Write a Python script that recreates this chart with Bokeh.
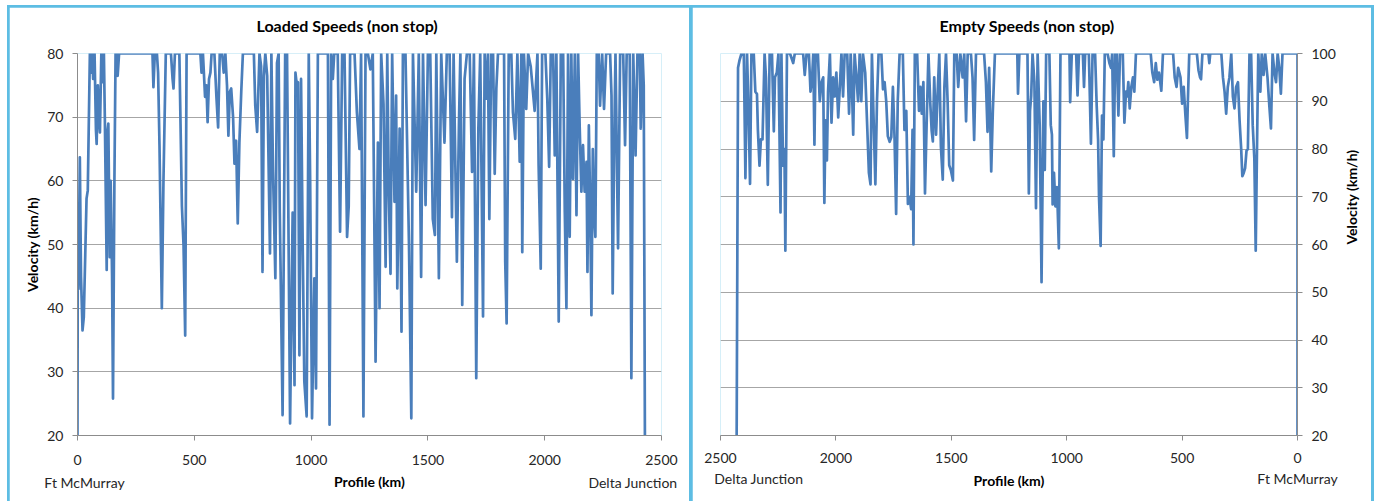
import math
from bokeh.plotting import figure
from bokeh.models import Range1d, FixedTicker, LinearAxis, Title
from bokeh.layouts import row
from bokeh.embed import file_html
from bokeh.resources import INLINE

# ---------------- data (km, km/h) ----------------
loaded_points = [
    (0, 20), (1.4, 54.6), (4.3, 43), (10, 63.7), (15, 45), (21.5, 36.5), (27, 38.6), (38.7, 57.2), (44, 58.5), (53, 80),
    (59, 77), (63, 80), (67, 76), (73, 80), (79, 68), (82, 65.8), (87, 75), (92, 70), (96, 67.6), (102, 80),
    (106, 75.5), (113, 80), (117, 70), (125, 46), (129, 68), (132, 69), (138, 48), (142, 60), (148, 45), (152, 25.8),
    (158, 60), (163, 80), (168, 80), (172, 76.5), (178, 80), (321, 80), (325, 74.7), (331, 80), (340, 80), (345, 77),
    (351, 65.6), (361, 40), (368, 60), (378, 80), (400, 80), (407, 76), (411, 74.5), (417, 80), (436, 80), (447, 56),
    (454, 49.8), (461, 35.7), (467, 80), (526, 80), (531, 77), (537, 80), (546, 73.2), (552, 75), (557, 69.2), (563, 76),
    (569, 77), (574, 80), (586, 80), (595, 73), (602, 68.4), (609, 80), (619, 80), (626, 77), (633, 80), (640, 75),
    (646, 67.1), (652, 74), (658, 74.5), (666, 70), (672, 62.7), (679, 66.3), (686, 53.3), (693, 66), (701, 74), (708, 80),
    (755, 80), (761, 71.8), (769, 67.7), (779, 80), (786, 78), (792, 45.7), (798, 76.5), (804, 80), (812, 76.5), (824, 48.6),
    (830, 80), (837, 61.4), (847, 44.7), (854, 78.5), (861, 80), (866, 55), (878, 23.2), (889, 80), (897, 80), (910, 21.9),
    (921, 55), (929, 27.9), (933, 77), (939, 75), (944, 75.5), (950, 32.6), (957, 76), (964, 50), (971, 28.5), (981, 23),
    (990, 80), (996, 60), (1004, 22.7), (1014, 44.7), (1021, 27.4), (1029, 80), (1072, 80), (1079, 21.7), (1086, 80), (1093, 76),
    (1099, 80), (1114, 80), (1124, 52), (1133, 80), (1143, 80), (1154, 51.2), (1161, 56), (1167, 80), (1186, 80), (1196, 70.8),
    (1207, 65), (1214, 80), (1224, 23), (1233, 80), (1243, 80), (1254, 77.5), (1264, 80), (1276, 31.6), (1286, 66), (1293, 40),
    (1300, 80), (1310, 72), (1319, 46.5), (1326, 80), (1333, 57.6), (1340, 45.4), (1347, 80), (1357, 56.7), (1364, 73.4), (1369, 43.1),
    (1379, 68.2), (1387, 36.3), (1393, 80), (1404, 80), (1419, 50), (1429, 22.7), (1436, 80), (1450, 58.3), (1461, 80), (1471, 44.9),
    (1479, 80), (1490, 56.2), (1500, 80), (1510, 80), (1521, 54), (1530, 51.5), (1536, 80), (1547, 44.7), (1557, 80), (1571, 66),
    (1581, 80), (1593, 80), (1603, 54.3), (1610, 80), (1624, 47.3), (1633, 69.2), (1639, 80), (1647, 40.5), (1657, 76), (1667, 80),
    (1679, 80), (1689, 61.4), (1697, 80), (1707, 29), (1716, 68.2), (1724, 80), (1736, 38.7), (1743, 80), (1750, 72.9), (1757, 80),
    (1763, 54), (1771, 80), (1779, 80), (1786, 61.1), (1793, 74.5), (1800, 80), (1826, 80), (1831, 47.3), (1837, 37.6), (1846, 80),
    (1857, 80), (1864, 70.8), (1874, 66.6), (1883, 80), (1893, 63), (1900, 80), (1904, 48.8), (1911, 80), (1921, 71.3), (1929, 80),
    (1940, 78), (1957, 71), (1969, 80), (1974, 62.4), (1983, 46.2), (1989, 80), (2003, 80), (2011, 72.9), (2019, 62.2), (2026, 80),
    (2036, 80), (2043, 64), (2050, 80), (2060, 37.9), (2069, 80), (2079, 80), (2086, 55.1), (2093, 40), (2100, 80), (2107, 51.2),
    (2114, 80), (2121, 60.3), (2129, 80), (2136, 54.6), (2143, 80), (2150, 68.2), (2157, 58.3), (2164, 65.6), (2171, 58.3), (2179, 63),
    (2183, 45.7), (2189, 68.7), (2194, 57.7), (2200, 38.9), (2206, 65), (2211, 55.1), (2217, 51.2), (2223, 80), (2231, 80), (2237, 71.8),
    (2246, 80), (2254, 71.3), (2263, 80), (2280, 80), (2286, 73.4), (2291, 42.3), (2297, 64.5), (2303, 80), (2314, 49.4), (2323, 80),
    (2336, 80), (2344, 65.6), (2351, 80), (2364, 80), (2371, 29), (2379, 80), (2389, 64), (2397, 80), (2407, 80), (2411, 68.2),
    (2419, 80), (2424, 75), (2429, 20),
]

empty_points = [
    (2430, 20), (2424, 97), (2418, 98.5), (2409, 100), (2399, 100), (2392, 73.9), (2385, 100), (2378, 87), (2372, 72.7), (2366, 100),
    (2356, 100), (2349, 92), (2342, 91.5), (2338, 84), (2331, 76.5), (2325, 82), (2318, 82), (2309, 100), (2303, 95), (2295, 72.5),
    (2287, 100), (2277, 100), (2269, 83.7), (2264, 95), (2256, 96), (2249, 100), (2240, 66.7), (2236, 100), (2229, 76.5), (2223, 80),
    (2219, 58.7), (2212, 100), (2199, 100), (2185, 98), (2178, 100), (2142, 100), (2135, 95.5), (2127, 100), (2117, 100), (2110, 92),
    (2103, 95), (2098, 100), (2093, 80.9), (2088, 100), (2078, 100), (2070, 90), (2062, 94), (2055, 95), (2050, 68.7), (2045, 86),
    (2039, 77.6), (2034, 92), (2026, 100), (2019, 85.5), (2012, 95), (2005, 91), (1998, 96), (1990, 86.6), (1983, 93), (1976, 100),
    (1969, 91), (1962, 100), (1951, 100), (1943, 87.4), (1936, 100), (1930, 92), (1925, 83), (1919, 100), (1911, 95), (1904, 90),
    (1897, 100), (1890, 90), (1883, 100), (1873, 96), (1864, 84.3), (1857, 75), (1850, 72.6), (1844, 100), (1836, 85), (1829, 72.6),
    (1822, 90), (1815, 100), (1803, 100), (1796, 92.5), (1789, 94), (1782, 90), (1775, 82.7), (1767, 81.5), (1760, 82.5), (1753, 93),
    (1746, 82.5), (1739, 66.4), (1732, 90), (1724, 100), (1710, 100), (1703, 84), (1695, 88), (1688, 68.5), (1681, 70), (1674, 67.4),
    (1668, 84), (1664, 60), (1658, 100), (1648, 100), (1640, 88), (1634, 93), (1628, 87.4), (1621, 94), (1614, 70.7), (1607, 85),
    (1599, 100), (1591, 89.5), (1585, 83.8), (1580, 81.6), (1574, 95), (1566, 83), (1559, 92), (1552, 100), (1545, 80.5), (1537, 73.6),
    (1530, 93), (1523, 100), (1516, 90), (1509, 76.6), (1502, 75.6), (1493, 73.4), (1487, 100), (1477, 100), (1470, 93), (1461, 100),
    (1451, 95), (1444, 100), (1436, 85.8), (1429, 100), (1415, 100), (1408, 95), (1401, 81.9), (1393, 100), (1358, 100), (1350, 94),
    (1343, 83.6), (1336, 97), (1327, 75.3), (1320, 88), (1311, 100), (1214, 100), (1211, 91.6), (1205, 100), (1170, 100), (1164, 70.7),
    (1159, 88), (1154, 91), (1148, 100), (1140, 94), (1133, 67.6), (1126, 100), (1117, 85), (1109, 52.1), (1101, 90), (1095, 75.6),
    (1089, 100), (1075, 100), (1069, 85), (1064, 83), (1061, 68.4), (1055, 75), (1049, 68), (1042, 72), (1034, 59.2), (1027, 100),
    (988, 100), (985, 89.8), (978, 100), (959, 100), (953, 91.2), (947, 100), (930, 100), (925, 93), (920, 100), (904, 100),
    (895, 81.1), (888, 100), (877, 100), (870, 89), (864, 82), (860, 70), (853, 59.7), (847, 87), (841, 82), (835, 100),
    (823, 100), (815, 98), (808, 97), (803, 100), (796, 78.5), (790, 100), (783, 100), (776, 87), (769, 100), (757, 100),
    (750, 85.5), (743, 92), (738, 91), (733, 94), (727, 88.5), (720, 93), (713, 95), (707, 92), (700, 100), (636, 100),
    (629, 96), (621, 94), (614, 98), (607, 94.5), (600, 96), (590, 92.2), (583, 100), (539, 100), (532, 95), (524, 93),
    (517, 97), (507, 95), (500, 89.5), (493, 93), (486, 87.3), (479, 82.3), (475, 90), (469, 100), (436, 100), (429, 96.5),
    (422, 95), (418, 94.6), (412, 100), (386, 100), (382, 98), (378, 100), (330, 100), (323, 95), (316, 92), (309, 87.4),
    (302, 93), (295, 95), (287, 100), (280, 91), (273, 88.5), (266, 93), (258, 94), (251, 86), (244, 80), (239, 74.3),
    (233, 75), (227, 76), (221, 79.6), (215, 80), (208, 100), (201, 100), (194, 85), (187, 78), (181, 58.7), (175, 82),
    (170, 100), (161, 92), (155, 100), (147, 95.5), (140, 100), (130, 95), (122, 89), (115, 84.3), (108, 100), (100, 96),
    (93, 94), (86, 100), (79, 97), (72, 91.6), (65, 100), (0, 100), (0, 20),
]

loaded_km = [p[0] for p in loaded_points]
loaded_speed = [p[1] for p in loaded_points]
empty_km = [p[0] for p in empty_points]
empty_speed = [p[1] for p in empty_points]

x_ticks = [0, 500, 1000, 1500, 2000, 2500]
loaded_y_ticks = [20, 30, 40, 50, 60, 70, 80]
empty_y_ticks = [20, 30, 40, 50, 60, 70, 80, 90, 100]

loaded_title = "Loaded Speeds (non stop)"
empty_title = "Empty Speeds (non stop)"
y_title = "Velocity (km/h)"
x_title = "Profile (km)"
origin_name = "Ft McMurray"
dest_name = "Delta Junction"

# ---------------- styling ----------------
FONT = "Lato"
LINE = "#4A7EBB"
GRID = "#A6A6A6"
AXIS = "#8C8C8C"
BORDER = "#5DBDE3"
TXT = "#262626"


def style(p, yticks, xlab_standoff, ylab_standoff):
    p.outline_line_color = None
    p.background_fill_color = "white"
    p.border_fill_color = "white"
    p.xgrid.grid_line_color = None
    p.ygrid.grid_line_color = GRID
    p.ygrid.grid_line_width = 1
    p.xaxis.ticker = FixedTicker(ticks=x_ticks)
    p.yaxis.ticker = FixedTicker(ticks=yticks)
    for ax in (p.xaxis, p.yaxis):
        ax.axis_line_color = AXIS
        ax.major_tick_line_color = AXIS
        ax.major_tick_out = 5
        ax.major_tick_in = 0
        ax.minor_tick_line_color = None
        ax.major_label_text_font = FONT
        ax.major_label_text_font_size = "14px"
        ax.major_label_text_color = TXT
    p.xaxis.major_label_standoff = xlab_standoff
    p.yaxis.major_label_standoff = 9
    p.yaxis.axis_label = y_title
    p.yaxis.axis_label_text_font = FONT
    p.yaxis.axis_label_text_font_size = "14px"
    p.yaxis.axis_label_text_font_style = "bold"
    p.yaxis.axis_label_text_color = "black"
    p.yaxis.axis_label_standoff = ylab_standoff


def add_title(p, text, offset):
    p.add_layout(Title(text=text + "\n ", align="left", offset=offset, standoff=0,
                       text_font=FONT, text_font_size="16px",
                       text_font_style="bold", text_color="black"), "above")


def add_names(p, ticks, labels, name_standoff, label_standoff):
    ax = LinearAxis(ticker=FixedTicker(ticks=ticks),
                    major_label_overrides=dict(zip(ticks, labels)),
                    axis_line_color=None, major_tick_line_color=None,
                    minor_tick_line_color=None, major_tick_out=0, major_tick_in=0,
                    major_label_standoff=name_standoff,
                    major_label_text_font=FONT, major_label_text_font_size="14px",
                    major_label_text_color=TXT,
                    axis_label=x_title, axis_label_standoff=label_standoff,
                    axis_label_text_font=FONT, axis_label_text_font_size="14px",
                    axis_label_text_font_style="bold", axis_label_text_color="black")
    p.add_layout(ax, "below")


# ---------------- loaded chart ----------------
p1 = figure(width=680, height=510, x_range=Range1d(0, 2500), y_range=Range1d(20, 80),
            output_backend="svg", toolbar_location=None,
            min_border_left=68, min_border_right=28, min_border_top=46, min_border_bottom=80)
style(p1, loaded_y_ticks, 14, 3)
p1.line(loaded_km, loaded_speed, line_color=LINE, line_width=2.7, line_join="round")
add_title(p1, loaded_title, 179)
add_names(p1, [30, 2378], [origin_name, dest_name], 6, -21)

# ---------------- empty chart ----------------
p2 = figure(width=679, height=510, x_range=Range1d(2500, 0), y_range=Range1d(20, 100),
            y_axis_location="right", output_backend="svg", toolbar_location=None,
            min_border_left=28, min_border_right=71, min_border_top=45, min_border_bottom=82)
style(p2, empty_y_ticks, 12, 13)
try:
    p2.yaxis.axis_label_orientation = math.pi / 2
except Exception:
    pass
p2.line(empty_km, empty_speed, line_color=LINE, line_width=2.7, line_join="round")
add_title(p2, empty_title, 219)
add_names(p2, [2334, 0], [dest_name, origin_name], 4, -18)

layout = row(p1, p2, spacing=3,
             styles={"background-color": BORDER, "padding": "2px 3px 2px 2px",
                     "margin-left": "7px", "margin-top": "5px"})

open("out.html", "w").write(file_html(layout, INLINE))
